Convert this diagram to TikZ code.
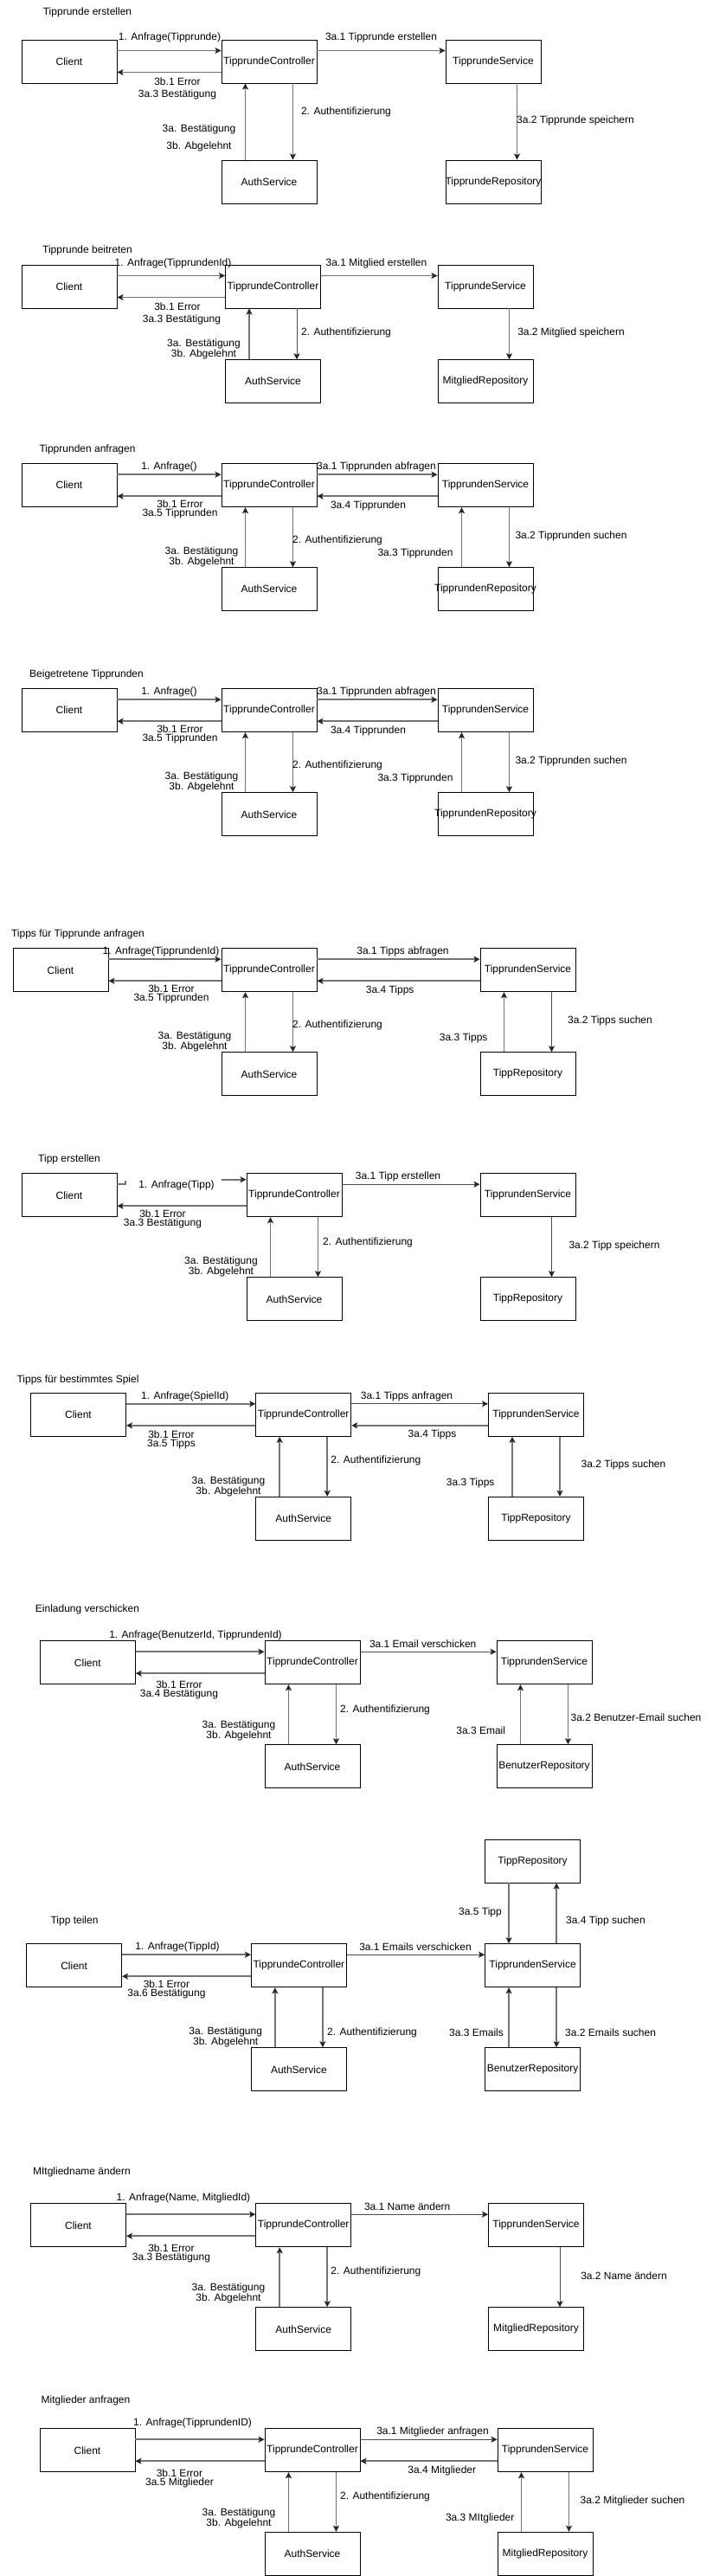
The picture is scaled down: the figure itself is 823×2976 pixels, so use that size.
\documentclass[tikz,border=0pt]{standalone}
\usepackage{fontspec}
\setmainfont{Liberation Sans}
\usetikzlibrary{arrows.meta}
\newcommand{\cbx}[1]{\makebox[0pt]{#1}}
\begin{document}
\begin{tikzpicture}[x=1pt,y=-1pt,
 box/.style={draw=black, line width=0.9pt, minimum width=110pt, minimum height=50pt, inner sep=0pt, font=\fontsize{12}{14}\selectfont},
 lbl/.style={inner sep=0pt, align=center, font=\fontsize{12}{10}\selectfont},
 ttl/.style={inner sep=0pt, font=\fontsize{12}{14}\selectfont},
 ln/.style={draw=black!55, line width=1.6pt},
 arr/.style={ln, -{Stealth[length=7pt,width=7pt,inset=1.5pt,color=black!85]}},
 arrt/.style={draw=black!70, line width=0.9pt, -{Stealth[length=7pt,width=7pt,inset=1.5pt,color=black!85]}},
]
\fill[white] (0,0) rectangle (823,2976);
\useasboundingbox (0,0) rectangle (823,2976);

% ---------- Section 1
\node[ttl] at (101,14) {Tipprunde erstellen};
\node[box] (c1) at (80,71) {\cbx{Client}};
\node[box] (k1) at (311,71) {\cbx{TipprundeController}};
\node[box] (s1) at (570,71) {\cbx{TipprundeService}};
\node[box] (a1) at (311,210) {\cbx{AuthService}};
\node[box] (r1) at (570,210) {\cbx{TipprundeRepository}};
\draw[arr] ([yshift=12.5pt]c1.east) -- ([yshift=12.5pt]k1.west);
\draw[arr] ([yshift=-12.5pt]k1.west) -- ([yshift=-12.5pt]c1.east);
\draw[arr] ([yshift=12.5pt]k1.east) -- ([yshift=12.5pt]s1.west);
\draw[arr] ([xshift=27.5pt]k1.south) -- ([xshift=27.5pt]a1.north);
\draw[arr] ([xshift=-27.5pt]a1.north) -- ([xshift=-27.5pt]k1.south);
\draw[arr] ([xshift=27.5pt]s1.south) -- ([xshift=27.5pt]r1.north);
\node[lbl] at (196,43.3) {1. Anfrage(Tipprunde)};
\node[lbl] at (440.5,43.3) {3a.1 Tipprunde erstellen};
\node[lbl] at (205,94) {3b.1 Error};
\node[lbl] at (205,109) {3a.3 Bestätigung};
\node[lbl] at (400,129) {2. Authentifizierung};
\node[lbl] at (230,149) {3a. Bestätigung};
\node[lbl] at (230,169) {3b. Abgelehnt};
\node[lbl] at (665,139) {3a.2 Tipprunde speichern};

% ---------- Section 2
\node[ttl] at (101,289) {Tipprunde beitreten};
\node[box] (c2) at (80,331) {\cbx{Client}};
\node[box] (k2) at (315.5,331) {\cbx{TipprundeController}};
\node[box] (s2) at (561,331) {\cbx{TipprundeService}};
\node[box] (a2) at (315.5,440.7) {\cbx{AuthService}};
\node[box] (r2) at (561,440.7) {\cbx{MitgliedRepository}};
\draw[arr] ([yshift=12.5pt]c2.east) -- ([yshift=12.5pt]k2.west);
\draw[arr] ([yshift=-12.5pt]k2.west) -- ([yshift=-12.5pt]c2.east);
\draw[arr] ([yshift=12.5pt]k2.east) -- ([yshift=12.5pt]s2.west);
\draw[arrt] ([xshift=27.5pt]k2.south) -- ([xshift=27.5pt]a2.north);
\draw[arr] ([xshift=-27.5pt]a2.north) -- ([xshift=-27.5pt]k2.south);
\draw[arr] ([xshift=27.5pt]s2.south) -- ([xshift=27.5pt]r2.north);
\node[lbl] at (200,304.3) {1. Anfrage(TipprundenId)};
\node[lbl] at (435,304.3) {3a.1 Mitglied erstellen};
\node[lbl] at (205,354) {3b.1 Error};
\node[lbl] at (210,369) {3a.3 Bestätigung};
\node[lbl] at (400,384.3) {2. Authentifizierung};
\node[lbl] at (235.5,403) {3a. Bestätigung\\3b. Abgelehnt};
\node[lbl] at (660,384.3) {3a.2 Mitglied speichern};

% ---------- Section 3
\node[ttl] at (101,519) {Tipprunden anfragen};
\node[box] (c3) at (80,560.7) {\cbx{Client}};
\node[box] (k3) at (311,560.7) {\cbx{TipprundeController}};
\node[box] (s3) at (561,560.7) {\cbx{TipprundenService}};
\node[box] (a3) at (311,680.7) {\cbx{AuthService}};
\node[box] (r3) at (561,680.7) {\cbx{TipprundenRepository}};
\draw[arr] ([yshift=12.5pt]c3.east) -- ([yshift=12.5pt]k3.west);
\draw[arr] ([yshift=-12.5pt]k3.west) -- ([yshift=-12.5pt]c3.east);
\draw[arr] ([yshift=12.5pt]k3.east) -- ([yshift=12.5pt]s3.west);
\draw[arr] ([yshift=-12.5pt]s3.west) -- ([yshift=-12.5pt]k3.east);
\draw[arr] ([xshift=27.5pt]k3.south) -- ([xshift=27.5pt]a3.north);
\draw[arr] ([xshift=-27.5pt]a3.north) -- ([xshift=-27.5pt]k3.south);
\draw[arr] ([xshift=27.5pt]s3.south) -- ([xshift=27.5pt]r3.north);
\draw[arr] ([xshift=-27.5pt]r3.north) -- ([xshift=-27.5pt]s3.south);
\node[lbl] at (195.5,539.3) {1. Anfrage()};
\node[lbl] at (435,539.3) {3a.1 Tipprunden abfragen};
\node[lbl] at (208,588.7) {3b.1 Error\\3a.5 Tipprunden};
\node[lbl] at (425.5,584) {3a.4 Tipprunden};
\node[lbl] at (390,624.3) {2. Authentifizierung};
\node[lbl] at (480,639) {3a.3 Tipprunden};
\node[lbl] at (660,619) {3a.2 Tipprunden suchen};
\node[lbl] at (233,643.3) {3a. Bestätigung\\3b. Abgelehnt};

% ---------- Section 4
\node[ttl] at (100,779) {Beigetretene Tipprunden};
\node[box] (c4) at (80,820.7) {\cbx{Client}};
\node[box] (k4) at (311,820.7) {\cbx{TipprundeController}};
\node[box] (s4) at (561,820.7) {\cbx{TipprundenService}};
\node[box] (a4) at (311,940.7) {\cbx{AuthService}};
\node[box] (r4) at (561,940.7) {\cbx{TipprundenRepository}};
\draw[arr] ([yshift=12.5pt]c4.east) -- ([yshift=12.5pt]k4.west);
\draw[arr] ([yshift=-12.5pt]k4.west) -- ([yshift=-12.5pt]c4.east);
\draw[arr] ([yshift=12.5pt]k4.east) -- ([yshift=12.5pt]s4.west);
\draw[arr] ([yshift=-12.5pt]s4.west) -- ([yshift=-12.5pt]k4.east);
\draw[arr] ([xshift=27.5pt]k4.south) -- ([xshift=27.5pt]a4.north);
\draw[arr] ([xshift=-27.5pt]a4.north) -- ([xshift=-27.5pt]k4.south);
\draw[arr] ([xshift=27.5pt]s4.south) -- ([xshift=27.5pt]r4.north);
\draw[arr] ([xshift=-27.5pt]r4.north) -- ([xshift=-27.5pt]s4.south);
\node[lbl] at (195.5,799.3) {1. Anfrage()};
\node[lbl] at (435,799.3) {3a.1 Tipprunden abfragen};
\node[lbl] at (208,848.7) {3b.1 Error\\3a.5 Tipprunden};
\node[lbl] at (425.5,844) {3a.4 Tipprunden};
\node[lbl] at (390,884.3) {2. Authentifizierung};
\node[lbl] at (480,899) {3a.3 Tipprunden};
\node[lbl] at (660,879) {3a.2 Tipprunden suchen};
\node[lbl] at (233,903.3) {3a. Bestätigung\\3b. Abgelehnt};

% ---------- Section 5
\node[ttl] at (90,1079) {Tipps für Tipprunde anfragen};
\node[box] (c5) at (70,1120.7) {\cbx{Client}};
\node[box] (k5) at (311,1120.7) {\cbx{TipprundeController}};
\node[box] (s5) at (610,1120.7) {\cbx{TipprundenService}};
\node[box] (a5) at (311,1240.7) {\cbx{AuthService}};
\node[box] (r5) at (610,1240.7) {\cbx{TippRepository}};
\draw[arr] ([yshift=12.5pt]c5.east) -- ([yshift=12.5pt]k5.west);
\draw[arr] ([yshift=-12.5pt]k5.west) -- ([yshift=-12.5pt]c5.east);
\draw[arr] ([yshift=12.5pt]k5.east) -- ([yshift=12.5pt]s5.west);
\draw[arr] ([yshift=-12.5pt]s5.west) -- ([yshift=-12.5pt]k5.east);
\draw[arr] ([xshift=27.5pt]k5.south) -- ([xshift=27.5pt]a5.north);
\draw[arr] ([xshift=-27.5pt]a5.north) -- ([xshift=-27.5pt]k5.south);
\draw[arrt] ([xshift=27.5pt]s5.south) -- ([xshift=27.5pt]r5.north);
\draw[arr] ([xshift=-27.5pt]r5.north) -- ([xshift=-27.5pt]s5.south);
\node[lbl] at (186,1099.3) {1. Anfrage(TipprundenId)};
\node[lbl] at (465.5,1099.3) {3a.1 Tipps abfragen};
\node[lbl] at (198,1148.7) {3b.1 Error\\3a.5 Tipprunden};
\node[lbl] at (450.7,1144) {3a.4 Tipps};
\node[lbl] at (390,1184.3) {2. Authentifizierung};
\node[lbl] at (535.7,1199) {3a.3 Tipps};
\node[lbl] at (705,1179) {3a.2 Tipps suchen};
\node[lbl] at (225,1203.3) {3a. Bestätigung\\3b. Abgelehnt};

% ---------- Section 6
\node[ttl] at (80,1339) {Tipp erstellen};
\node[box] (c6) at (80,1380.7) {\cbx{Client}};
\node[box] (k6) at (340,1380.7) {\cbx{TipprundeController}};
\node[box] (s6) at (610,1380.7) {\cbx{TipprundenService}};
\node[box] (a6) at (340,1500.7) {\cbx{AuthService}};
\node[box] (r6) at (610,1500.7) {\cbx{TippRepository}};
\draw[ln] ([yshift=12.5pt]c6.east) -- ++(9.5,0) -- ++(0,-4.5);
\coordinate (t6) at (256,1362.7);
\draw[arr] (t6) -- (t6 -| k6.west);
\draw[arr] ([yshift=-12.5pt]k6.west) -- ([yshift=-12.5pt]c6.east);
\draw[arrt] ([yshift=12.5pt]k6.east) -- ([yshift=12.5pt]s6.west);
\draw[arr] ([xshift=27.5pt]k6.south) -- ([xshift=27.5pt]a6.north);
\draw[arr] ([xshift=-27.5pt]a6.north) -- ([xshift=-27.5pt]k6.south);
\draw[arrt] ([xshift=27.5pt]s6.south) -- ([xshift=27.5pt]r6.north);
\node[lbl] at (204,1369) {1. Anfrage(Tipp)};
\node[lbl] at (460,1359.3) {3a.1 Tipp erstellen};
\node[lbl] at (188,1408.7) {3b.1 Error\\3a.3 Bestätigung};
\node[lbl] at (425,1435) {2. Authentifizierung};
\node[lbl] at (710,1439) {3a.2 Tipp speichern};
\node[lbl] at (255.5,1463.3) {3a. Bestätigung\\3b. Abgelehnt};

% ---------- Section 7
\node[ttl] at (90,1594) {Tipps für bestimmtes Spiel};
\node[box] (c7) at (90.5,1634.3) {\cbx{Client}};
\node[box] (k7) at (350.7,1634.3) {\cbx{TipprundeController}};
\node[box] (s7) at (619.5,1634.3) {\cbx{TipprundenService}};
\node[box] (a7) at (350.7,1754.3) {\cbx{AuthService}};
\node[box] (r7) at (619.5,1754.3) {\cbx{TippRepository}};
\draw[arr] ([yshift=12.5pt]c7.east) -- ([yshift=12.5pt]k7.west);
\draw[arr] ([yshift=-12.5pt]k7.west) -- ([yshift=-12.5pt]c7.east);
\draw[arrt] ([yshift=12.5pt]k7.east) -- ([yshift=12.5pt]s7.west);
\draw[arr] ([yshift=-12.5pt]s7.west) -- ([yshift=-12.5pt]k7.east);
\draw[arr] ([xshift=27.5pt]k7.south) -- ([xshift=27.5pt]a7.north);
\draw[arr] ([xshift=-27.5pt]a7.north) -- ([xshift=-27.5pt]k7.south);
\draw[arr] ([xshift=27.5pt]s7.south) -- ([xshift=27.5pt]r7.north);
\draw[arr] ([xshift=-27.5pt]r7.north) -- ([xshift=-27.5pt]s7.south);
\node[lbl] at (213.7,1613.3) {1. Anfrage(SpielId)};
\node[lbl] at (470,1613.3) {3a.1 Tipps anfragen};
\node[lbl] at (198,1663) {3b.1 Error\\3a.5 Tipps};
\node[lbl] at (499.5,1657.7) {3a.4 Tipps};
\node[lbl] at (434.4,1687.7) {2. Authentifizierung};
\node[lbl] at (543.7,1713.3) {3a.3 Tipps};
\node[lbl] at (720.5,1692.7) {3a.2 Tipps suchen};
\node[lbl] at (264,1717.7) {3a. Bestätigung\\3b. Abgelehnt};

% ---------- Section 8
\node[ttl] at (101,1859.3) {Einladung verschicken};
\node[box] (c8) at (101.3,1920.7) {\cbx{Client}};
\node[box] (k8) at (361,1920.7) {\cbx{TipprundeController}};
\node[box] (s8) at (629,1920.7) {\cbx{TipprundenService}};
\node[box] (a8) at (361,2040.7) {\cbx{AuthService}};
\node[box] (r8) at (629,2040.7) {\cbx{BenutzerRepository}};
\draw[arr] ([yshift=12.5pt]c8.east) -- ([yshift=12.5pt]k8.west);
\draw[arr] ([yshift=-12.5pt]k8.west) -- ([yshift=-12.5pt]c8.east);
\draw[arrt] ([yshift=12.5pt]k8.east) -- ([yshift=12.5pt]s8.west);
\draw[arr] ([xshift=27.5pt]k8.south) -- ([xshift=27.5pt]a8.north);
\draw[arr] ([xshift=-27.5pt]a8.north) -- ([xshift=-27.5pt]k8.south);
\draw[arr] ([xshift=27.5pt]s8.south) -- ([xshift=27.5pt]r8.north);
\draw[arr] ([xshift=-27.5pt]r8.north) -- ([xshift=-27.5pt]s8.south);
\node[lbl] at (226,1889.3) {1. Anfrage(BenutzerId, TipprundenId)};
\node[lbl] at (488.7,1899.3) {3a.1 Email verschicken};
\node[lbl] at (207,1952) {3b.1 Error\\3a.4 Bestätigung};
\node[lbl] at (445,1975) {2. Authentifizierung};
\node[lbl] at (555.7,1999.3) {3a.3 Email};
\node[lbl] at (735,1984) {3a.2 Benutzer-Email suchen};
\node[lbl] at (276,1999) {3a. Bestätigung\\3b. Abgelehnt};

% ---------- Section 9
\node[box] (t9) at (615.6,2150) {\cbx{TippRepository}};
\node[ttl] at (86,2219) {Tipp teilen};
\node[box] (c9) at (85.6,2270.7) {\cbx{Client}};
\node[box] (k9) at (345.4,2270.7) {\cbx{TipprundeController}};
\node[box] (s9) at (615.6,2270.7) {\cbx{TipprundenService}};
\node[box] (a9) at (345.4,2390.7) {\cbx{AuthService}};
\node[box] (b9) at (615.6,2390.7) {\cbx{BenutzerRepository}};
\draw[arr] ([yshift=12.5pt]c9.east) -- ([yshift=12.5pt]k9.west);
\draw[arr] ([yshift=-12.5pt]k9.west) -- ([yshift=-12.5pt]c9.east);
\draw[arrt] ([yshift=12.5pt]k9.east) -- ([yshift=12.5pt]s9.west);
\draw[arr] ([xshift=27.5pt]k9.south) -- ([xshift=27.5pt]a9.north);
\draw[arr] ([xshift=-27.5pt]a9.north) -- ([xshift=-27.5pt]k9.south);
\draw[arr] ([xshift=27.5pt]s9.south) -- ([xshift=27.5pt]b9.north);
\draw[arr] ([xshift=-27.5pt]b9.north) -- ([xshift=-27.5pt]s9.south);
\draw[arr] ([xshift=-27.5pt]t9.south) -- ([xshift=-27.5pt]s9.north);
\draw[arr] ([xshift=27.5pt]s9.north) -- ([xshift=27.5pt]t9.south);
\node[lbl] at (555,2209) {3a.5 Tipp};
\node[lbl] at (700,2219) {3a.4 Tipp suchen};
\node[lbl] at (205,2249) {1. Anfrage(TippId)};
\node[lbl] at (480,2249) {3a.1 Emails verschicken};
\node[lbl] at (192.5,2298.3) {3b.1 Error\\3a.6 Bestätigung};
\node[lbl] at (260.7,2353.3) {3a. Bestätigung\\3b. Abgelehnt};
\node[lbl] at (430,2348.3) {2. Authentifizierung};
\node[lbl] at (550.5,2348.3) {3a.3 Emails};
\node[lbl] at (705.6,2348.3) {3a.2 Emails suchen};

% ---------- Section 10
\node[ttl] at (94.5,2509) {MItgliedname ändern};
\node[box] (c10) at (90.5,2570.7) {\cbx{Client}};
\node[box] (k10) at (350.7,2570.7) {\cbx{TipprundeController}};
\node[box] (s10) at (619.5,2570.7) {\cbx{TipprundenService}};
\node[box] (a10) at (350.7,2690.7) {\cbx{AuthService}};
\node[box] (r10) at (619.5,2690.7) {\cbx{MitgliedRepository}};
\draw[arr] ([yshift=12.5pt]c10.east) -- ([yshift=12.5pt]k10.west);
\draw[arr] ([yshift=-12.5pt]k10.west) -- ([yshift=-12.5pt]c10.east);
\draw[arrt] ([yshift=12.5pt]k10.east) -- ([yshift=12.5pt]s10.west);
\draw[arr] ([xshift=27.5pt]k10.south) -- ([xshift=27.5pt]a10.north);
\draw[arr] ([xshift=-27.5pt]a10.north) -- ([xshift=-27.5pt]k10.south);
\draw[arrt] ([xshift=27.5pt]s10.south) -- ([xshift=27.5pt]r10.north);
\node[lbl] at (212,2539.3) {1. Anfrage(Name, MitgliedId)};
\node[lbl] at (470.7,2549.3) {3a.1 Name ändern};
\node[lbl] at (198,2603) {3b.1 Error\\3a.3 Bestätigung};
\node[lbl] at (434.4,2624.3) {2. Authentifizierung};
\node[lbl] at (721,2629) {3a.2 Name ändern};
\node[lbl] at (264,2649) {3a. Bestätigung\\3b. Abgelehnt};

% ---------- Section 11
\node[ttl] at (99,2773.3) {Mitglieder anfragen};
\node[box] (c11) at (101,2830.7) {\cbx{Client}};
\node[box] (k11) at (361,2830.7) {\cbx{TipprundeController}};
\node[box] (s11) at (630,2830.7) {\cbx{TipprundenService}};
\node[box] (a11) at (361,2950.2) {\cbx{AuthService}};
\node[box] (r11) at (630,2950.2) {\cbx{MitgliedRepository}};
\draw[arr] ([yshift=12.5pt]c11.east) -- ([yshift=12.5pt]k11.west);
\draw[arr] ([yshift=-12.5pt]k11.west) -- ([yshift=-12.5pt]c11.east);
\draw[arrt] ([yshift=12.5pt]k11.east) -- ([yshift=12.5pt]s11.west);
\draw[arr] ([yshift=-12.5pt]s11.west) -- ([yshift=-12.5pt]k11.east);
\draw[arr] ([xshift=27.5pt]k11.south) -- ([xshift=27.5pt]a11.north);
\draw[arr] ([xshift=-27.5pt]a11.north) -- ([xshift=-27.5pt]k11.south);
\draw[arr] ([xshift=27.5pt]s11.south) -- ([xshift=27.5pt]r11.north);
\draw[arr] ([xshift=-27.5pt]r11.north) -- ([xshift=-27.5pt]s11.south);
\node[lbl] at (222.6,2799.3) {1. Anfrage(TipprundenID)};
\node[lbl] at (500,2809.3) {3a.1 Mitglieder anfragen};
\node[lbl] at (207.5,2863) {3b.1 Error\\3a.5 Mitglieder};
\node[lbl] at (510.8,2854) {3a.4 Mitglieder};
\node[lbl] at (445,2884.3) {2. Authentifizierung};
\node[lbl] at (554.7,2909.3) {3a.3 MItglieder};
\node[lbl] at (731,2889) {3a.2 Mitglieder suchen};
\node[lbl] at (276,2909) {3a. Bestätigung\\3b. Abgelehnt};
\end{tikzpicture}
\end{document}
